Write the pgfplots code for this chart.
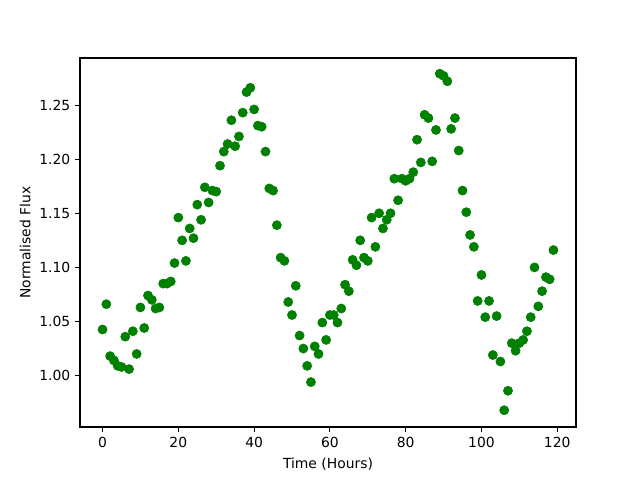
\documentclass[border=0pt]{standalone}
\usepackage{pgfplots}
\pgfplotsset{compat=1.18}
\usepackage{fontspec}
\setmainfont{DejaVu Sans}
\definecolor{mplgreen}{HTML}{008000}
\begin{document}
\begin{tikzpicture}
\useasboundingbox (0,0) rectangle (460.8pt,345.6pt);
\begin{axis}[
  at={(57.6pt,38.16pt)}, anchor=south west,
  scale only axis, width=357.12pt, height=265.68pt,
  xmin=-5.95, xmax=124.95, ymin=0.9525, ymax=1.2935,
  xtick={0,20,40,60,80,100,120},
  ytick={1.00,1.05,1.10,1.15,1.20,1.25},
  yticklabel style={/pgf/number format/.cd, fixed, fixed zerofill, precision=2},
  /pgf/number format/assume math mode=true,
  tick align=outside, tick pos=lower,
  major tick length=3.5pt,
  every tick/.style={black, line width=0.8pt},
  axis line style={line width=0.8pt},
  ticklabel style={font=\fontsize{10}{12}\selectfont},
  label style={font=\fontsize{10}{12}\selectfont},
  xlabel={Time (Hours)}, ylabel={Normalised Flux},
  xlabel style={yshift=-1pt},
  ylabel style={yshift=-0.5pt},
  clip=false,
]
\addplot[only marks, mark=*, mark size=3.3pt, mplgreen, mark options={draw=mplgreen, fill=mplgreen}] coordinates {
(0,1.0426)(1,1.066)(2,1.018)(3,1.014)(4,1.009)(5,1.008)(6,1.036)(7,1.006)
(8,1.041)(9,1.020)(10,1.063)(11,1.044)(12,1.074)(13,1.070)(14,1.062)(15,1.063)
(16,1.085)(17,1.085)(18,1.087)(19,1.104)(20,1.146)(21,1.125)(22,1.106)(23,1.136)
(24,1.127)(25,1.158)(26,1.144)(27,1.174)(28,1.160)(29,1.171)(30,1.170)(31,1.194)
(32,1.207)(33,1.214)(34,1.236)(35,1.212)(36,1.221)(37,1.243)(38,1.262)(39,1.266)
(40,1.246)(41,1.231)(42,1.230)(43,1.207)(44,1.173)(45,1.171)(46,1.139)(47,1.109)
(48,1.106)(49,1.068)(50,1.056)(51,1.083)(52,1.037)(53,1.025)(54,1.009)(55,0.994)
(56,1.027)(57,1.020)(58,1.049)(59,1.033)(60,1.056)(61,1.056)(62,1.049)(63,1.062)
(64,1.084)(65,1.078)(66,1.107)(67,1.102)(68,1.125)(69,1.109)(70,1.106)(71,1.146)
(72,1.119)(73,1.150)(74,1.136)(75,1.144)(76,1.150)(77,1.182)(78,1.162)(79,1.182)
(80,1.180)(81,1.182)(82,1.188)(83,1.218)(84,1.197)(85,1.241)(86,1.238)(87,1.198)
(88,1.227)(89,1.279)(90,1.277)(91,1.272)(92,1.228)(93,1.238)(94,1.208)(95,1.171)
(96,1.151)(97,1.130)(98,1.119)(99,1.069)(100,1.093)(101,1.054)(102,1.069)(103,1.019)
(104,1.055)(105,1.013)(106,0.968)(107,0.986)(108,1.030)(109,1.023)(110,1.030)(111,1.033)
(112,1.041)(113,1.054)(114,1.100)(115,1.064)(116,1.078)(117,1.091)(118,1.089)(119,1.116)
};
\end{axis}
\end{tikzpicture}
\end{document}
